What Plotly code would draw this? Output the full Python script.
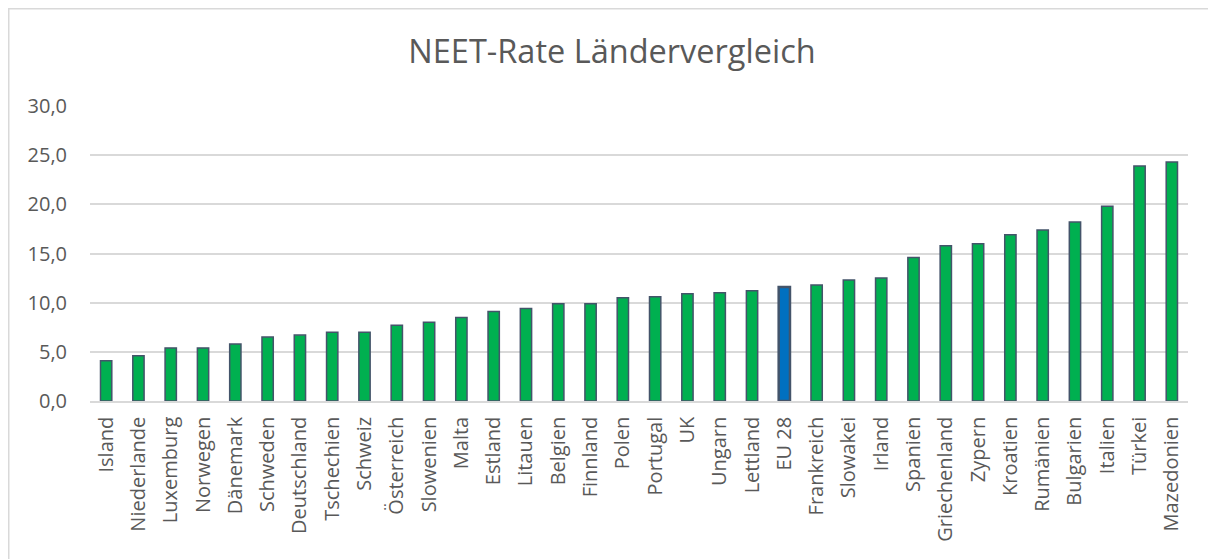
import plotly.graph_objects as go

countries = ["Island", "Niederlande", "Luxemburg", "Norwegen", "Dänemark", "Schweden",
             "Deutschland", "Tschechien", "Schweiz", "Österreich", "Slowenien", "Malta",
             "Estland", "Litauen", "Belgien", "Finnland", "Polen", "Portugal", "UK",
             "Ungarn", "Lettland", "EU 28", "Frankreich", "Slowakei", "Irland", "Spanien",
             "Griechenland", "Zypern", "Kroatien", "Rumänien", "Bulgarien", "Italien",
             "Türkei", "Mazedonien"]
values = [4.1, 4.6, 5.4, 5.4, 5.8, 6.5, 6.7, 7.0, 7.0, 7.7, 8.0, 8.5,
          9.1, 9.4, 9.9, 9.9, 10.5, 10.6, 10.9, 11.0, 11.2, 11.6, 11.8, 12.3,
          12.5, 14.6, 15.8, 16.0, 16.9, 17.4, 18.2, 19.8, 23.9, 24.3]
highlight = "EU 28"
yticks = [0, 5, 10, 15, 20, 25, 30]
ytick_labels = ["0,0", "5,0", "10,0", "15,0", "20,0", "25,0", "30,0"]

GREEN = "#00B050"
BLUE = "#0070C0"
OUTLINE = "#44546A"
TEXT = "#595959"
GRID = "#D9D9D9"

colors = [BLUE if c == highlight else GREEN for c in countries]
line_widths = [2.5 if c == highlight else 1.5 for c in countries]

fig = go.Figure(go.Bar(
    x=countries, y=values,
    marker=dict(color=colors, line=dict(color=OUTLINE, width=line_widths)),
))

W, H = 1208, 551
ml, mr, mt, mb = 82, 28, 98, 158
pw = W - ml - mr
ph = H - mt - mb

fig.update_layout(
    width=W, height=H,
    margin=dict(l=ml, r=mr, t=mt, b=mb),
    paper_bgcolor="white", plot_bgcolor="white",
    bargap=0.65,
    showlegend=False,
    font=dict(family="Open Sans", color=TEXT, size=20),
    title=dict(text="NEET-Rate Ländervergleich", x=0.5, xref="container", xanchor="center",
               y=1 - 44 / H, yref="container", yanchor="middle",
               font=dict(family="Open Sans", size=32.5, color=TEXT)),
    xaxis=dict(tickangle=-90, showgrid=False, showline=True, linecolor=GRID, linewidth=1.5,
               ticks="", tickfont=dict(size=20, color=TEXT), ticklabelstandoff=6,
               range=[-0.5, len(countries) - 0.5]),
    yaxis=dict(range=[0, 30], tickvals=yticks, ticktext=ytick_labels, showgrid=True,
               gridcolor=GRID, gridwidth=1.5, zeroline=False, showline=False, ticks="",
               tickfont=dict(size=20, color=TEXT), ticklabelstandoff=22),
    shapes=[dict(type="rect", xref="paper", yref="paper",
                 x0=(0.75 - ml) / pw, x1=(W + 10 - ml) / pw,
                 y0=-(H + 10 - (H - mb)) / ph, y1=((H - mb) - 0.75) / ph,
                 line=dict(color=GRID, width=1.5), fillcolor="rgba(0,0,0,0)", layer="below")],
)

fig.write_html("out.html")
